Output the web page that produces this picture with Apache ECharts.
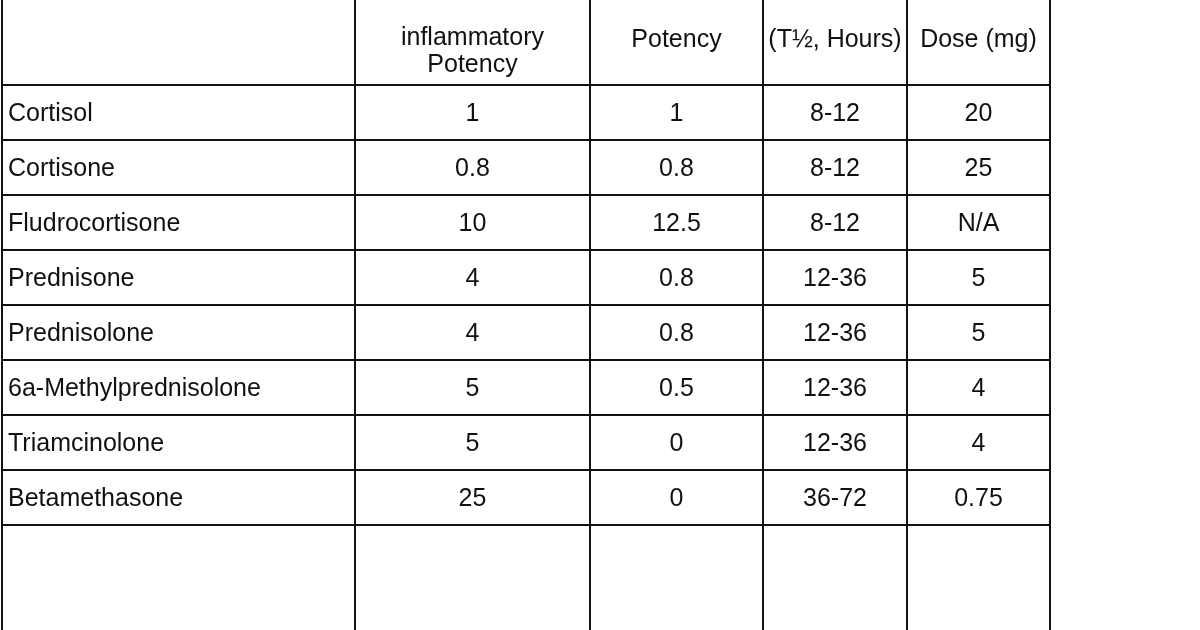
<!DOCTYPE html><html><head><meta charset="utf-8"><script src="https://cdn.jsdelivr.net/npm/echarts@6/dist/echarts.min.js"></script>
<style>html,body{margin:0;background:#fff}#c{width:1200px;height:630px}</style></head><body><div id="c"></div><script>
const headers=['','inflammatory\nPotency','Potency','(T½, Hours)','Dose (mg)'];
const drugs=['Cortisol','Cortisone','Fludrocortisone','Prednisone','Prednisolone','6a-Methylprednisolone','Triamcinolone','Betamethasone',''];
const antiInflammatory=['1','0.8','10','4','4','5','5','25',''];
const mineralocorticoid=['1','0.8','12.5','0.8','0.8','0.5','0','0',''];
const halfLife=['8-12','8-12','8-12','12-36','12-36','12-36','12-36','36-72',''];
const equivDose=['20','25','N/A','5','5','4','4','0.75',''];
const colEdges=[2,355,590,763,907,1050];
const rowEdges=[-10,85,140,195,250,305,360,415,470,525,660];
const cols=[drugs,antiInflammatory,mineralocorticoid,halfLife,equivDose];
const data=[];
for(let c=0;c<5;c++){data.push([c,0,headers[c]]);for(let r=0;r<drugs.length;r++)data.push([c,r+1,cols[c][r]]);}
const chart=echarts.init(document.getElementById('c'));
chart.setOption({animation:false,
grid:{left:0,right:0,top:0,bottom:0},
xAxis:{type:'value',min:0,max:1200,show:false},
yAxis:{type:'value',min:0,max:630,inverse:true,show:false},
series:[{type:'custom',data:data,renderItem:function(params,api){
 const c=api.value(0),r=api.value(1),t=data[params.dataIndex][2];
 const p0=api.coord([colEdges[c],rowEdges[r]]),p1=api.coord([colEdges[c+1],rowEdges[r+1]]);
 const cx=c===0?p0[0]+6:(p0[0]+p1[0])/2;
 const cy=r===0?(t.indexOf('\n')>=0?52:40):(p0[1]+p1[1])/2+2;
 return {type:'group',children:[
  {type:'rect',shape:{x:p0[0],y:p0[1],width:p1[0]-p0[0],height:p1[1]-p0[1]},style:{fill:'none',stroke:'#111',lineWidth:2}},
  {type:'text',style:{text:t,x:cx,y:cy,fill:'#111',font:'25px "Liberation Sans", Arial, sans-serif',align:c===0?'left':'center',verticalAlign:'middle',lineHeight:27}}
 ]};}}]});
</script></body></html>
